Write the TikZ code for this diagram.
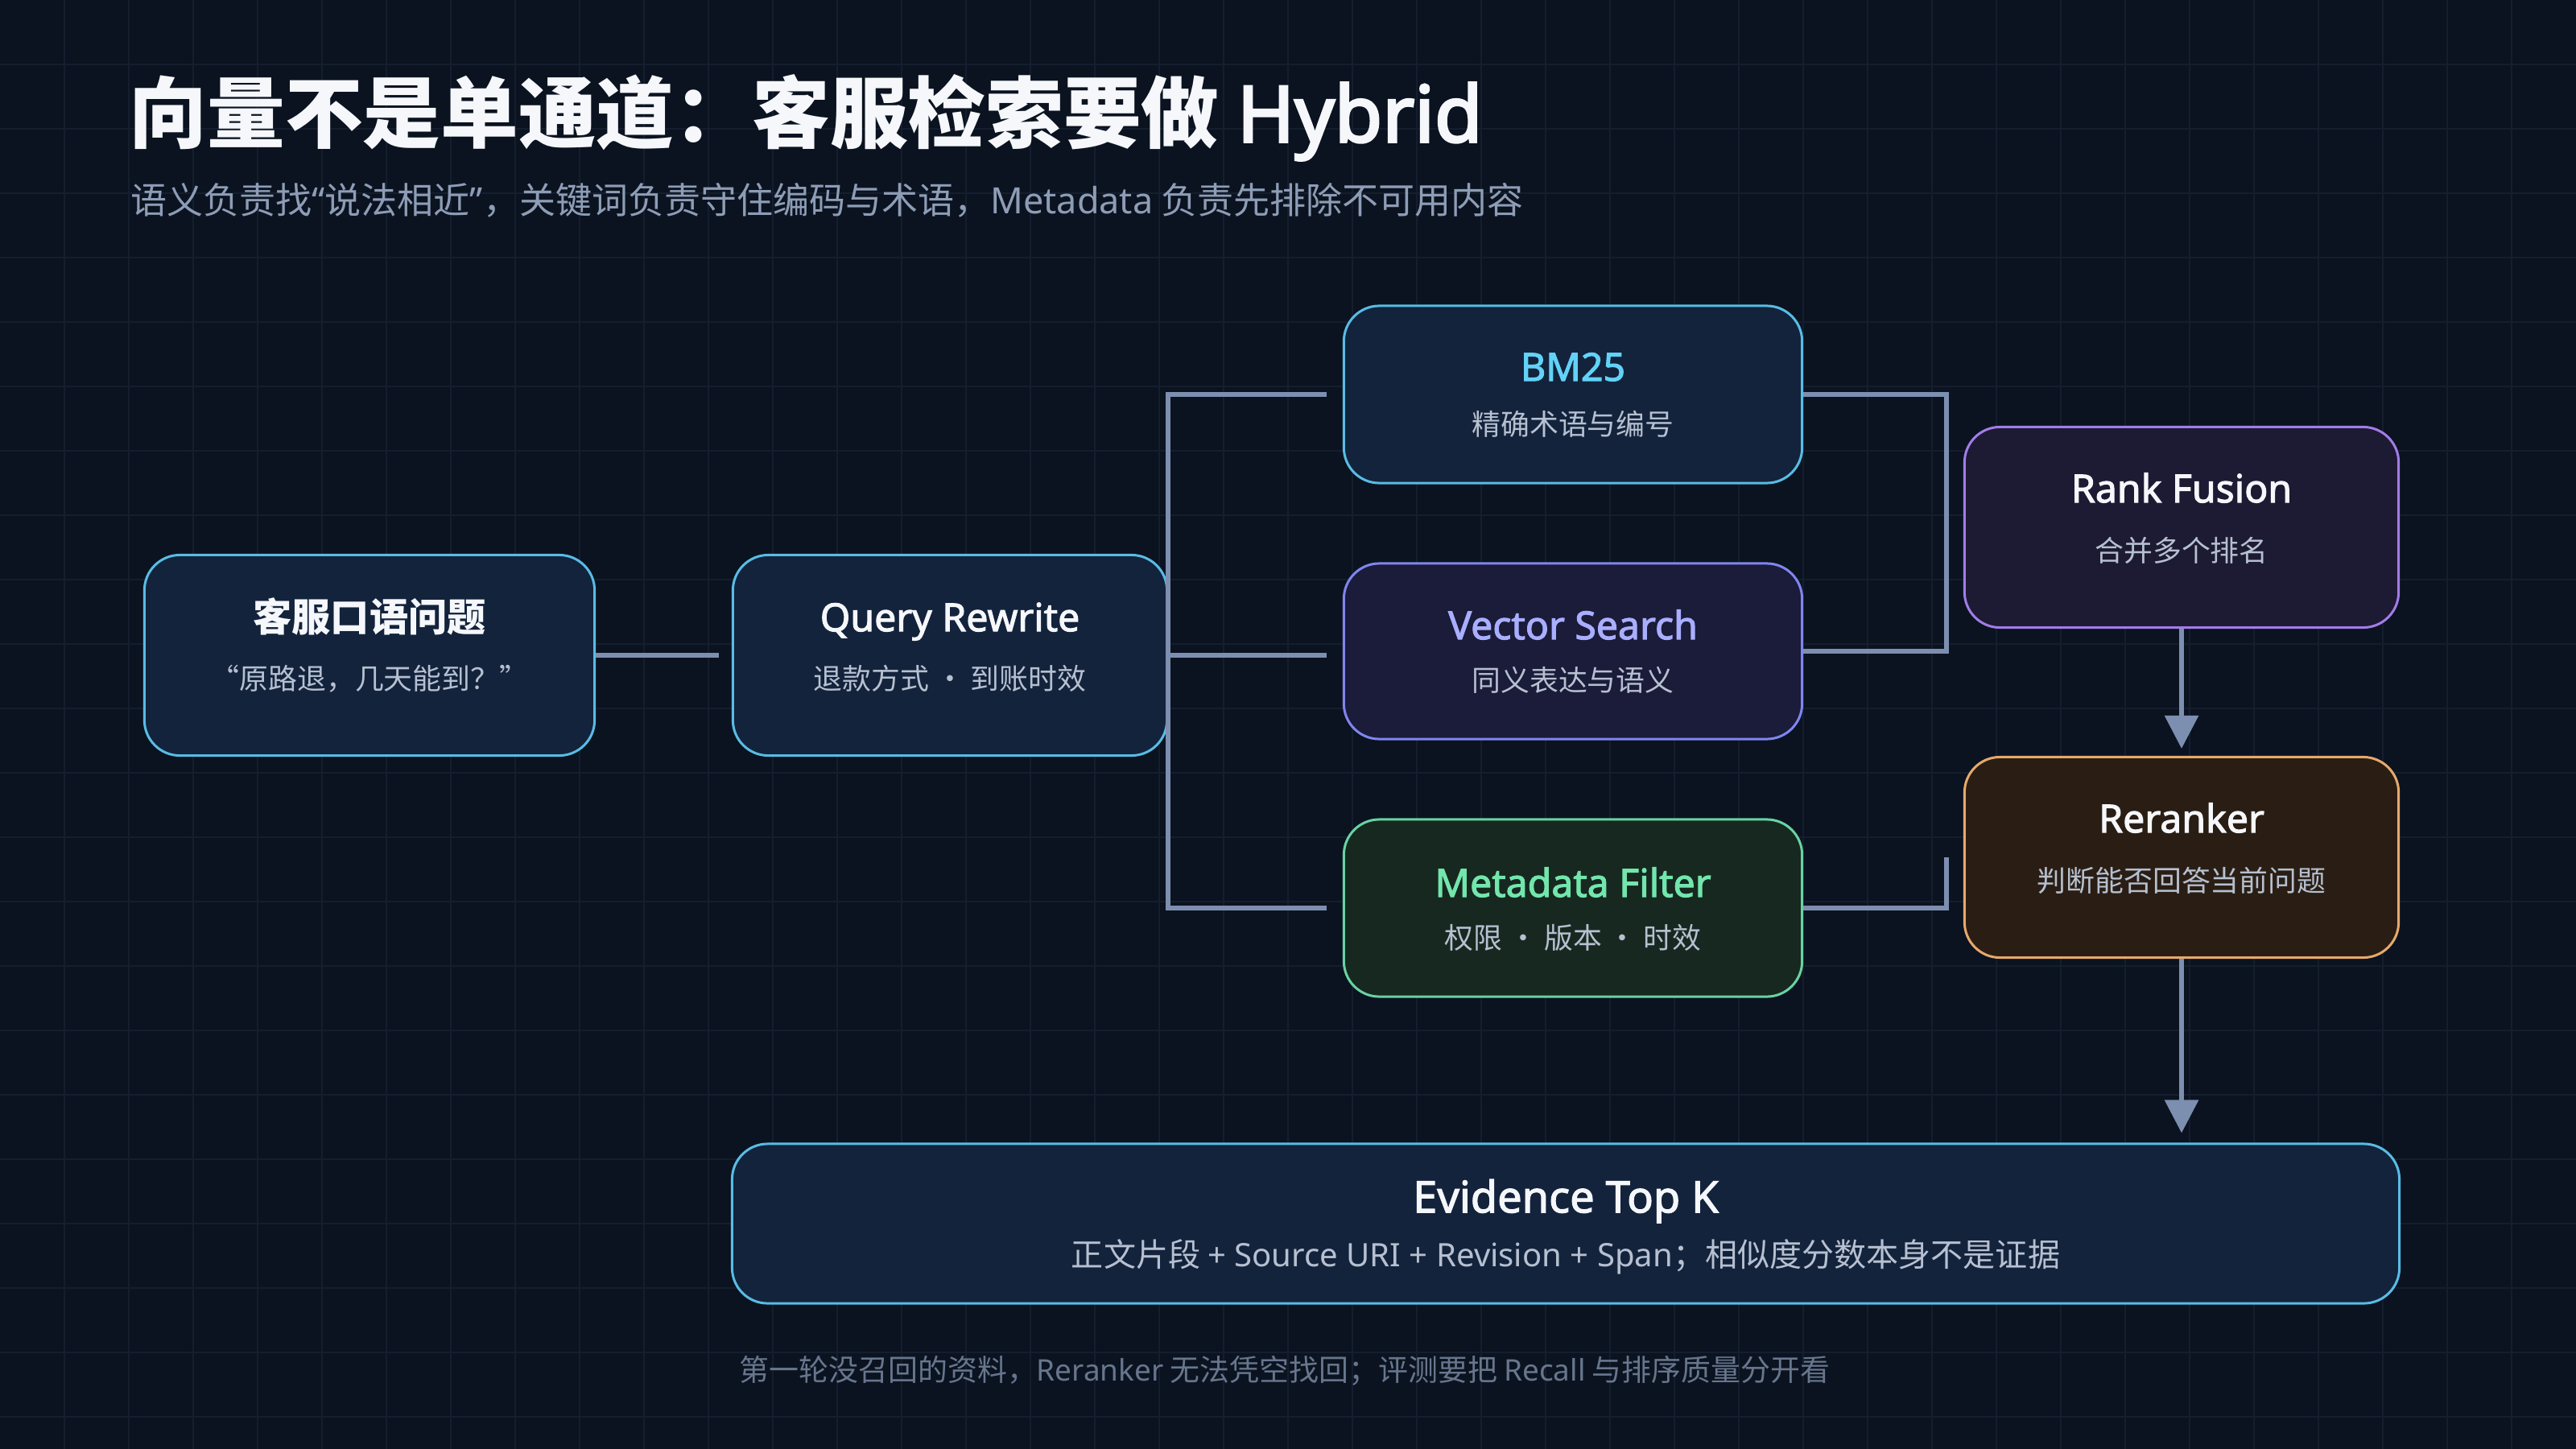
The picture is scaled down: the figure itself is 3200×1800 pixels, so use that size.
\documentclass[tikz,border=0pt]{standalone}
\usepackage{fontspec}
\setmainfont{Noto Sans CJK SC}
\newfontfamily\enfont{Noto Sans}[BoldFont={Noto Sans}, BoldFeatures={FakeBold=2.2}]
\newfontfamily\enheavy{Noto Sans}[FakeBold=3.2]
\usetikzlibrary{positioning, arrows.meta, calc}
\definecolor{bgnavy}{HTML}{0B1320}
\definecolor{gridline}{HTML}{141E2F}
\definecolor{linkgray}{HTML}{7D8FB0}
\definecolor{boxblue}{HTML}{13233C}
\definecolor{edgeblue}{HTML}{58BCE4}
\definecolor{bmcyan}{HTML}{62D2F7}
\definecolor{boxindigo}{HTML}{1B1B3A}
\definecolor{edgeindigo}{HTML}{7F86EE}
\definecolor{txtindigo}{HTML}{A9AEFF}
\definecolor{boxgreen}{HTML}{172820}
\definecolor{edgegreen}{HTML}{68D3A2}
\definecolor{txtgreen}{HTML}{72E6AC}
\definecolor{boxpurple}{HTML}{1D1A33}
\definecolor{edgepurple}{HTML}{A27CE8}
\definecolor{boxbrown}{HTML}{2A1E14}
\definecolor{edgeorange}{HTML}{E6A96B}
\definecolor{subgray}{HTML}{B6C0D0}
\definecolor{leadgray}{HTML}{8E9DB6}
\definecolor{notegray}{HTML}{67768D}
\definecolor{titlewhite}{HTML}{F5F7FB}

\begin{document}
\begin{tikzpicture}[x=0.01cm, y=-0.01cm,
    stage/.style={draw, line width=0.03cm, rounded corners=0.44cm, inner sep=0pt},
    ttl/.style={text=titlewhite, font=\enfont\bfseries\fontsize{13.7}{16}\selectfont, inner sep=0pt, text height=10.3pt, text depth=0pt},
    ttlzh/.style={ttl, font=\bfseries\fontsize{13.7}{16}\selectfont},
    subtxt/.style={text=subgray, font=\fontsize{10.2}{12}\selectfont, inner sep=0pt, text height=7.65pt, text depth=0pt},
    link/.style={draw=linkgray, line width=0.06cm, line join=miter},
    flow/.style={link, -{Triangle[length=0.41cm, width=0.41cm]}}
  ]
  % background and grid
  \fill[bgnavy] (0,0) rectangle (3200,1800);
  \useasboundingbox (0,0) rectangle (3200,1800);
  \foreach \gx in {80,160,...,3120}
    \draw[gridline, line width=0.02cm] (\gx,0) -- (\gx,1800);
  \foreach \gy in {80,160,...,1760}
    \draw[gridline, line width=0.02cm] (0,\gy) -- (3200,\gy);

  % heading
  \node[anchor=west, text=titlewhite, font=\bfseries\fontsize{27.5}{32}\selectfont, inner sep=0pt, text height=20.6pt, text depth=0pt] (headline) at (160,140) {向量不是单通道：客服检索要做 {\enheavy Hybrid}};
  \node[anchor=west, text=leadgray, font=\fontsize{12.8}{15}\selectfont, inner sep=0pt, text height=9.6pt, text depth=0pt] (lead) at (162,249) {语义负责找{\enfont “}说法相近{\enfont ”}，关键词负责守住编码与术语，{\enfont Metadata} 负责先排除不可用内容};

  % stages
  \node[stage, draw=edgeblue, fill=boxblue, minimum width=5.59cm, minimum height=2.49cm] (ask) at (459,814) {};
  \node[stage, draw=edgeblue, fill=boxblue, minimum width=5.39cm, minimum height=2.49cm] (rw) at (1180,814) {};
  \node[stage, draw=edgeblue, fill=boxblue, minimum width=5.69cm, minimum height=2.20cm] (bm) at (1954,490) {};
  \node[stage, draw=edgeindigo, fill=boxindigo, minimum width=5.69cm, minimum height=2.18cm] (vec) at (1954,809) {};
  \node[stage, draw=edgegreen, fill=boxgreen, minimum width=5.69cm, minimum height=2.20cm] (md) at (1954,1128) {};
  \node[stage, draw=edgepurple, fill=boxpurple, minimum width=5.39cm, minimum height=2.49cm] (fus) at (2710,655) {};
  \node[stage, draw=edgeorange, fill=boxbrown, minimum width=5.39cm, minimum height=2.49cm] (rr) at (2710,1065) {};
  \node[stage, draw=edgeblue, fill=boxblue, minimum width=20.70cm, minimum height=1.98cm] (ev) at (1945,1520) {};

  % stage texts
  \node[ttlzh] (askT) at ($(ask)+(0,-48)$) {客服口语问题};
  \node[subtxt] (askS) at ($(ask)+(0,29)$) {“原路退，几天能到？”};
  \node[ttl] (rwT) at ($(rw)+(0,-48)$) {Query Rewrite};
  \node[subtxt] (rwS) at ($(rw)+(0,29)$) {退款方式 · 到账时效};
  \node[ttl, text=bmcyan] (bmT) at ($(bm)+(0,-35)$) {BM25};
  \node[subtxt] (bmS) at ($(bm)+(0,37)$) {精确术语与编号};
  \node[ttl, text=txtindigo] (vecT) at ($(vec)+(0,-33)$) {Vector Search};
  \node[subtxt] (vecS) at ($(vec)+(0,36)$) {同义表达与语义};
  \node[ttl, text=txtgreen] (mdT) at ($(md)+(0,-32)$) {Metadata Filter};
  \node[subtxt] (mdS) at ($(md)+(0,37)$) {权限 · 版本 · 时效};
  \node[ttl] (fusT) at ($(fus)+(0,-49)$) {Rank Fusion};
  \node[subtxt] (fusS) at ($(fus)+(0,29)$) {合并多个排名};
  \node[ttl] (rrT) at ($(rr)+(0,-49)$) {Reranker};
  \node[subtxt] (rrS) at ($(rr)+(0,29)$) {判断能否回答当前问题};
  \node[ttl, font=\enfont\bfseries\fontsize{15.4}{18}\selectfont, text height=11.5pt] (evT) at ($(ev)+(0,-34)$) {Evidence Top K};
  \node[subtxt, font=\fontsize{11.4}{14}\selectfont, text height=8.5pt] (evS) at ($(ev)+(0,39)$) {正文片段 {\enfont + Source URI + Revision + Span}；相似度分数本身不是证据};

  % connectors
  \draw[link, shorten >=0.16cm] (ask) -- (rw);
  \draw[link, shorten >=0.2cm] (rw.east) -- (rw.east -| vec.west);
  \draw[link, shorten <=0.2cm, shorten >=0.2cm] (bm.west) -| (rw.east) |- (md.west);
  \draw[link] (bm.east) -| ([xshift=-0.21cm]fus.west) |- (vec.east);
  \draw[link] (md.east) -| ([xshift=-0.21cm]rr.west);
  \draw[flow, shorten >=0.09cm] (fus) -- (rr);
  \draw[flow, shorten >=0.12cm] (rr.south) -- (rr.south |- ev.north);

  % footnote
  \node[anchor=west, text=notegray, font=\fontsize{10.5}{13}\selectfont, inner sep=0pt, text height=7.9pt, text depth=0pt] (note) at (918,1702) {第一轮没召回的资料，{\enfont Reranker} 无法凭空找回；评测要把 {\enfont Recall} 与排序质量分开看};
\end{tikzpicture}
\end{document}
